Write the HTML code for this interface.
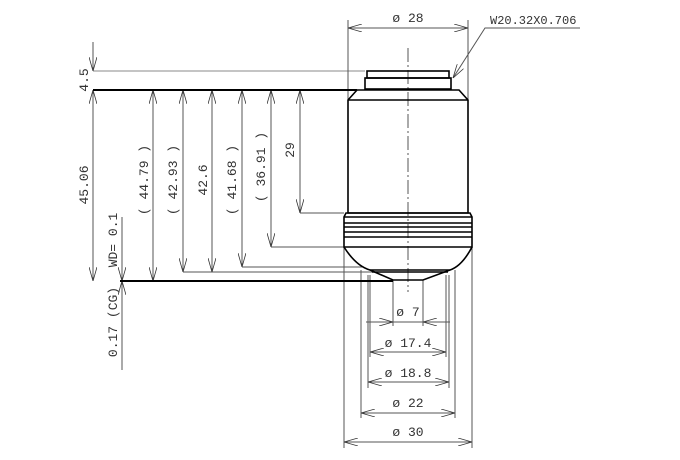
<!DOCTYPE html>
<html><head><style>html,body{margin:0;padding:0;background:#fff}svg{display:block}</style></head><body>
<svg width="680" height="460" viewBox="0 0 680 460" xmlns="http://www.w3.org/2000/svg" font-family="Liberation Mono, monospace" font-size="13" fill="#333">
<defs>
<marker id="a" viewBox="0 0 14 8" refX="14" refY="4" markerWidth="14" markerHeight="8" orient="auto-start-reverse" markerUnits="userSpaceOnUse"><path d="M0,0 L14,4 L0,8" fill="none" stroke="#333" stroke-width="0.8"/></marker>
</defs>
<g stroke="#555" stroke-width="1" fill="none">
<line x1="93" y1="71" x2="365" y2="71" stroke="#888"/>
<line x1="300" y1="213" x2="344" y2="213"/>
<line x1="271" y1="247" x2="344" y2="247"/>
<line x1="242" y1="267" x2="362" y2="267"/>
<line x1="183" y1="272" x2="372" y2="272"/>
<line x1="122" y1="217" x2="122" y2="370"/>
<line x1="348" y1="20" x2="348" y2="100"/>
<line x1="468" y1="20" x2="468" y2="100"/>
<line x1="344" y1="247" x2="344" y2="448"/>
<line x1="472" y1="247" x2="472" y2="448"/>
<line x1="361" y1="270" x2="361" y2="418"/>
<line x1="455" y1="270" x2="455" y2="418"/>
<line x1="368" y1="275" x2="368" y2="388"/>
<line x1="449" y1="275" x2="449" y2="388"/>
<line x1="370" y1="275" x2="370" y2="357"/>
<line x1="446" y1="275" x2="446" y2="357"/>
<line x1="393" y1="280" x2="393" y2="326"/>
<line x1="423" y1="280" x2="423" y2="326"/>
<line x1="408" y1="48" x2="408" y2="292" stroke-dasharray="14,3,2,3"/>
<line x1="93" y1="42" x2="93" y2="71" marker-end="url(#a)"/>
<line x1="93" y1="90" x2="93" y2="281" marker-start="url(#a)" marker-end="url(#a)"/>
<line x1="153" y1="90" x2="153" y2="281" marker-start="url(#a)" marker-end="url(#a)"/>
<line x1="183" y1="90" x2="183" y2="272" marker-start="url(#a)" marker-end="url(#a)"/>
<line x1="212" y1="90" x2="212" y2="272" marker-start="url(#a)" marker-end="url(#a)"/>
<line x1="242" y1="90" x2="242" y2="267" marker-start="url(#a)" marker-end="url(#a)"/>
<line x1="271" y1="90" x2="271" y2="247" marker-start="url(#a)" marker-end="url(#a)"/>
<line x1="300" y1="90" x2="300" y2="213" marker-start="url(#a)" marker-end="url(#a)"/>
<line x1="122" y1="260" x2="122" y2="281" marker-end="url(#a)"/>
<line x1="122" y1="300" x2="122" y2="281" marker-end="url(#a)"/>
<line x1="348" y1="28" x2="468" y2="28" marker-start="url(#a)" marker-end="url(#a)"/>
<line x1="366" y1="322" x2="393" y2="322" marker-end="url(#a)"/>
<line x1="450" y1="322" x2="423" y2="322" marker-end="url(#a)"/>
<line x1="393" y1="322" x2="423" y2="322"/>
<line x1="370" y1="352" x2="446" y2="352" marker-start="url(#a)" marker-end="url(#a)"/>
<line x1="368" y1="382" x2="449" y2="382" marker-start="url(#a)" marker-end="url(#a)"/>
<line x1="361" y1="413" x2="455" y2="413" marker-start="url(#a)" marker-end="url(#a)"/>
<line x1="344" y1="442" x2="472" y2="442" marker-start="url(#a)" marker-end="url(#a)"/>
<polyline points="580,28 485,28 453,78" marker-end="url(#a)" fill="none"/>
</g>
<g stroke="#000" stroke-width="2" fill="none">
<line x1="93" y1="90" x2="357" y2="90"/>
<line x1="120" y1="281" x2="393" y2="281"/>
</g>
<g stroke="#000" stroke-width="1.6" fill="none">
<rect x="367" y="71" width="82" height="7"/>
<rect x="365" y="78" width="86" height="11"/>
<path d="M357,90 L459,90 L468,100 L468,213 L348,213 L348,100 Z"/>
<line x1="348" y1="100" x2="468" y2="100"/>
<path d="M346,213 L470,213 L472,217 L472,247 L344,247 L344,217 Z"/>
<line x1="344" y1="217" x2="472" y2="217"/>
<line x1="344" y1="223" x2="472" y2="223"/>
<line x1="344" y1="227" x2="472" y2="227"/>
<line x1="344" y1="232" x2="472" y2="232"/>
<line x1="344" y1="237" x2="472" y2="237"/>
<path d="M344,247 Q356,266 370,270 L450,270 Q462,266 472,247"/>
<path d="M370,270 L393,280 L423,280 L450,270"/>
<line x1="372" y1="272" x2="448" y2="272"/>
</g>
<text x="408" y="22" text-anchor="middle">ø 28</text>
<text x="490" y="24" font-size="12">W20.32X0.706</text>
<text x="408" y="316" text-anchor="middle">ø 7</text>
<text x="408" y="347" text-anchor="middle">ø 17.4</text>
<text x="408" y="377" text-anchor="middle">ø 18.8</text>
<text x="408" y="407" text-anchor="middle">ø 22</text>
<text x="408" y="436" text-anchor="middle">ø 30</text>
<g text-anchor="middle">
<text transform="translate(88,80) rotate(-90)">4.5</text>
<text transform="translate(88,185) rotate(-90)">45.06</text>
<text transform="translate(148,180) rotate(-90)">( 44.79 )</text>
<text transform="translate(177,180) rotate(-90)">( 42.93 )</text>
<text transform="translate(207,180) rotate(-90)">42.6</text>
<text transform="translate(236,180) rotate(-90)">( 41.68 )</text>
<text transform="translate(265,167) rotate(-90)">( 36.91 )</text>
<text transform="translate(294,150) rotate(-90)">29</text>
<text transform="translate(117,240) rotate(-90)">WD= 0.1</text>
<text transform="translate(117,322) rotate(-90)">0.17 (CG)</text>
</g>
</svg>
</body></html>
